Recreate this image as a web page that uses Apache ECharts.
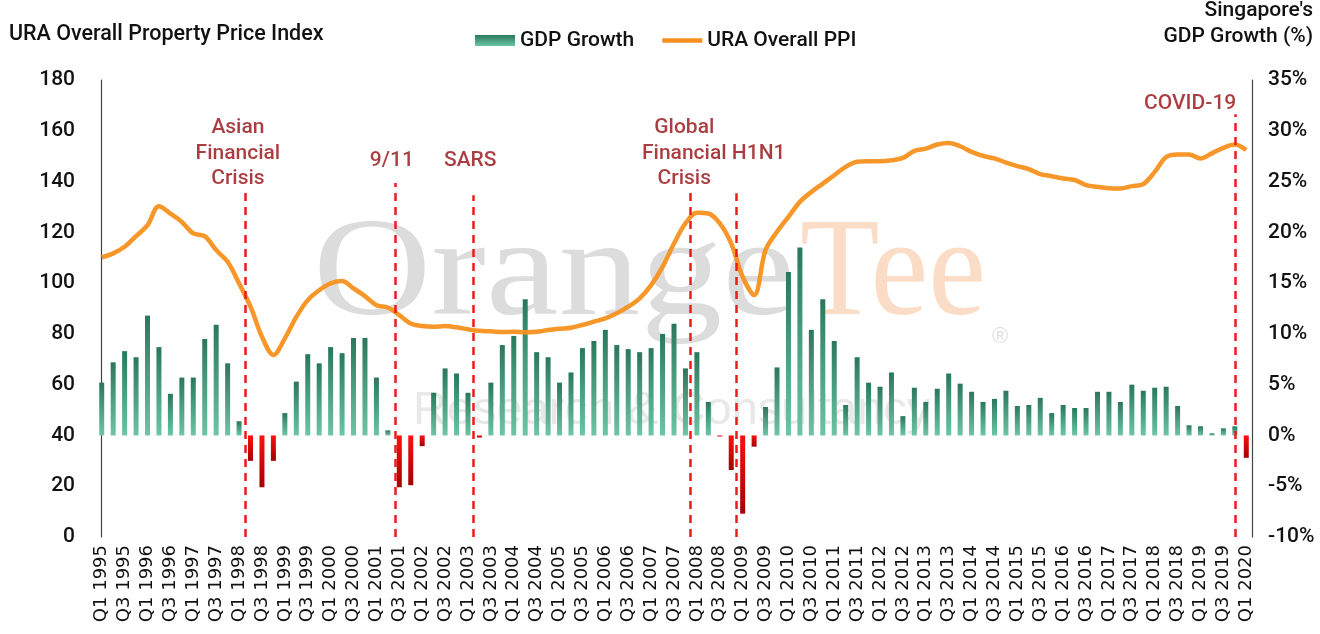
<!DOCTYPE html>
<html>
<head>
<meta charset="utf-8">
<script src="https://cdn.jsdelivr.net/npm/echarts@6/dist/echarts.min.js"></script>
<style>
html,body{margin:0;padding:0;background:#fff;}
#c{width:1320px;height:634px;}
</style>
</head>
<body>
<div id="c"></div>
<script>
const years = [1995,1996,1997,1998,1999,2000,2001,2002,2003,2004,2005,2006,2007,2008,2009,2010,2011,2012,2013,2014,2015,2016,2017,2018,2019,2020];
const categories = [];
years.forEach(y => { ['Q1','Q2','Q3','Q4'].forEach(q => { if (y < 2020 || q === 'Q1') categories.push(q + ' ' + y); }); });

// Singapore's GDP growth (%), quarterly, Q1 1995 - Q1 2020
const gdpGrowth = [
  5.2, 7.2, 8.3, 7.7,   11.8, 8.7, 4.1, 5.7,   5.7, 9.5, 10.9, 7.1,
  1.4, -2.5, -5.1, -2.5,   2.2, 5.3, 8.0, 7.1,   8.7, 8.1, 9.6, 9.6,
  5.7, 0.5, -5.1, -4.9,   -1.05, 4.2, 6.6, 6.1,   4.2, -0.2, 5.2, 8.9,
  9.8, 13.4, 8.2, 7.7,   5.2, 6.2, 8.6, 9.3,   10.4, 8.9, 8.5, 8.2,
  8.6, 10.0, 11.0, 6.6,   8.2, 3.3, -0.1, -3.4,   -7.7, -1.1, 2.8, 6.7,
  16.1, 18.5, 10.4, 13.4,   9.3, 3.0, 7.7, 5.2,   4.8, 6.2, 1.9, 4.7,
  3.3, 4.6, 6.1, 5.1,   4.3, 3.3, 3.6, 4.4,   2.9, 3.0, 3.7, 2.2,
  3.0, 2.7, 2.7, 4.3,   4.3, 3.3, 5.0, 4.4,   4.7, 4.8, 2.9, 1.0,
  0.9, 0.2, 0.7, 0.9,   -2.2
];

// URA Overall Property Price Index
const ppi = [
  110.1, 111.7, 114.3, 118.5,   122.8, 130.3, 127.4, 124.1,   119.6, 118.5, 113.0, 108.4,
  99.9, 90.7, 78.9, 71.7,   78.2, 86.7, 93.3, 97.2,   99.9, 100.8, 97.9, 94.9,
  91.3, 90.4, 87.4, 84.1,   83.1, 82.8, 83.1, 82.6,   81.8, 81.2, 81.0, 80.7,
  80.8, 80.6, 80.8, 81.5,   82.0, 82.4, 83.5, 84.8,   86.1, 88.1, 90.7, 94.0,
  99.2, 106.4, 115.6, 123.5,   127.7, 127.4, 123.5, 115.6,   102.5, 95.3, 113.0, 120.2,
  126.1, 132.0, 135.9, 139.2,   142.5, 145.8, 147.8, 148.0,   148.0, 148.4, 149.3, 152.1,
  153.0, 154.6, 155.2, 153.9,   151.7, 150.1, 149.1, 147.5,   146.1, 144.9, 142.9, 142.1,
  141.2, 140.6, 138.6, 137.9,   137.4, 137.3, 138.2, 139.0,   143.8, 149.7, 150.7, 150.7,
  149.1, 151.1, 153.3, 154.6,   152.4
];

const leftTicks = { min: 0, max: 180, interval: 20 };
const rightTicks = { min: -10, max: 35, interval: 5 };

// Event markers: position on the quarter scale (index), top of the line on the PPI scale
const eventNames = ['Asian\nFinancial\nCrisis', '9/11', 'SARS', 'Global\nFinancial\nCrisis', 'H1N1', 'COVID-19'];
const eventPos   = [12.53, 25.65, 32.45, 51.4, 55.4, 99.0];
const eventTop   = [136.6, 139.4, 134.6, 135.6, 135.4, 166.5];
const labelPos   = [[11.9, 151.0], [25.35, 148.0], [32.2, 148.0], [50.9, 151.0], [57.4, 151.0], [95.1, 170.5]];

const FONT = 'Roboto, "Noto Sans", sans-serif';
const greenGrad = new echarts.graphic.LinearGradient(0, 0, 0, 1, [
  { offset: 0, color: '#2a785c' }, { offset: 1, color: '#6cc5a5' }]);
const redGrad = new echarts.graphic.LinearGradient(0, 0, 0, 1, [
  { offset: 0, color: '#ff1010' }, { offset: 1, color: '#a30000' }]);

const chart = echarts.init(document.getElementById('c'), null, { renderer: 'canvas' });

chart.setOption({
  backgroundColor: '#fff',
  animation: false,
  textStyle: { fontFamily: FONT },
  graphic: [
    { type: 'text', left: 9, top: 24, z: 10,
      style: { text: 'URA Overall Property Price Index', font: '500 21.5px ' + FONT, fill: '#111' } },
    { type: 'text', right: 7, top: 0, z: 10,
      style: { text: "Singapore's", font: '500 21px ' + FONT, fill: '#111' } },
    { type: 'text', right: 7, top: 26, z: 10,
      style: { text: 'GDP Growth (%)', font: '500 21px ' + FONT, fill: '#111' } },
    { type: 'text', z: -10, x: 313, y: 347, scaleX: 1.17,
      style: { text: 'Orange', font: '140px "Liberation Serif", serif', fill: '#dcdcdc', textVerticalAlign: 'bottom' } },
    { type: 'text', z: -10, x: 800, y: 347, scaleX: 0.93,
      style: { text: 'Tee', font: '140px "Liberation Serif", serif', fill: '#fbdcc6', textVerticalAlign: 'bottom' } },
    { type: 'text', z: -10, x: 992, y: 326,
      style: { text: '®', font: '22px "Liberation Sans", sans-serif', fill: '#e0e0e0' } },
    { type: 'text', z: -10, x: 413, y: 388,
      style: { text: 'Research & Consultancy', font: '300 47px "Liberation Sans", sans-serif', fill: '#e8e8e8' } }
  ],
  legend: {
    left: 470, top: 25,
    itemWidth: 40, itemHeight: 11, itemGap: 28,
    textStyle: { fontSize: 21, color: '#111', fontFamily: FONT, fontWeight: 500 },
    data: [
      { name: 'GDP Growth', icon: 'rect', itemStyle: { color: greenGrad } },
      { name: 'URA Overall PPI', icon: 'path://M0,0 L44,0 L44,5 L0,5 Z', itemStyle: { color: '#f7901e' } }
    ]
  },
  grid: { left: 96, right: 68, top: 80, bottom: 97, containLabel: false },
  xAxis: [
    { type: 'category', data: categories, boundaryGap: true,
      axisLine: { show: false }, axisTick: { show: false },
      axisLabel: { rotate: 90, interval: 1, fontSize: 18, color: '#111', margin: 8,
                   fontFamily: '"DejaVu Sans", sans-serif' } },
    { type: 'value', min: -0.5, max: 100.5, show: false }
  ],
  yAxis: [
    { type: 'value', min: leftTicks.min, max: leftTicks.max, interval: leftTicks.interval,
      axisLine: { show: true, lineStyle: { color: '#444', width: 1.2 } },
      axisTick: { show: false }, splitLine: { show: false },
      axisLabel: { fontSize: 21, color: '#111', margin: 21, fontWeight: 500 } },
    { type: 'value', position: 'right', min: rightTicks.min, max: rightTicks.max, interval: rightTicks.interval,
      axisLine: { show: true, lineStyle: { color: '#444', width: 1.2 } },
      axisTick: { show: false }, splitLine: { show: false },
      axisLabel: { fontSize: 21, color: '#111', margin: 16, fontWeight: 500, formatter: '{value}%' } }
  ],
  series: [
    { name: 'GDP Growth', type: 'bar', xAxisIndex: 0, yAxisIndex: 1, barWidth: 5, z: 2,
      data: gdpGrowth,
      itemStyle: { color: p => (p.value < 0 ? redGrad : greenGrad) } },
    { name: 'URA Overall PPI', type: 'line', xAxisIndex: 0, yAxisIndex: 0, data: ppi,
      smooth: 0.35, symbol: 'none', z: 4,
      lineStyle: { color: '#f7901e', width: 4.5, opacity: 0.95 },
      itemStyle: { color: '#f7901e' } },
    { name: 'events', type: 'scatter', xAxisIndex: 1, yAxisIndex: 0, symbolSize: 0, z: 5,
      data: eventNames.map((n, i) => ({ name: n, value: labelPos[i] })),
      label: { show: true, position: 'inside', formatter: '{b}', fontSize: 21, fontWeight: 500, color: '#960c12',
               lineHeight: 25.5, align: 'center', verticalAlign: 'middle', fontFamily: FONT },
      markLine: {
        silent: true, symbol: 'none',
        lineStyle: { color: '#f01a1a', width: 2.5, type: [8, 6] },
        label: { show: false },
        data: eventPos.map((x, i) => [{ coord: [x, 0] }, { coord: [x, eventTop[i]] }])
      } }
  ]
});
</script>
</body>
</html>
